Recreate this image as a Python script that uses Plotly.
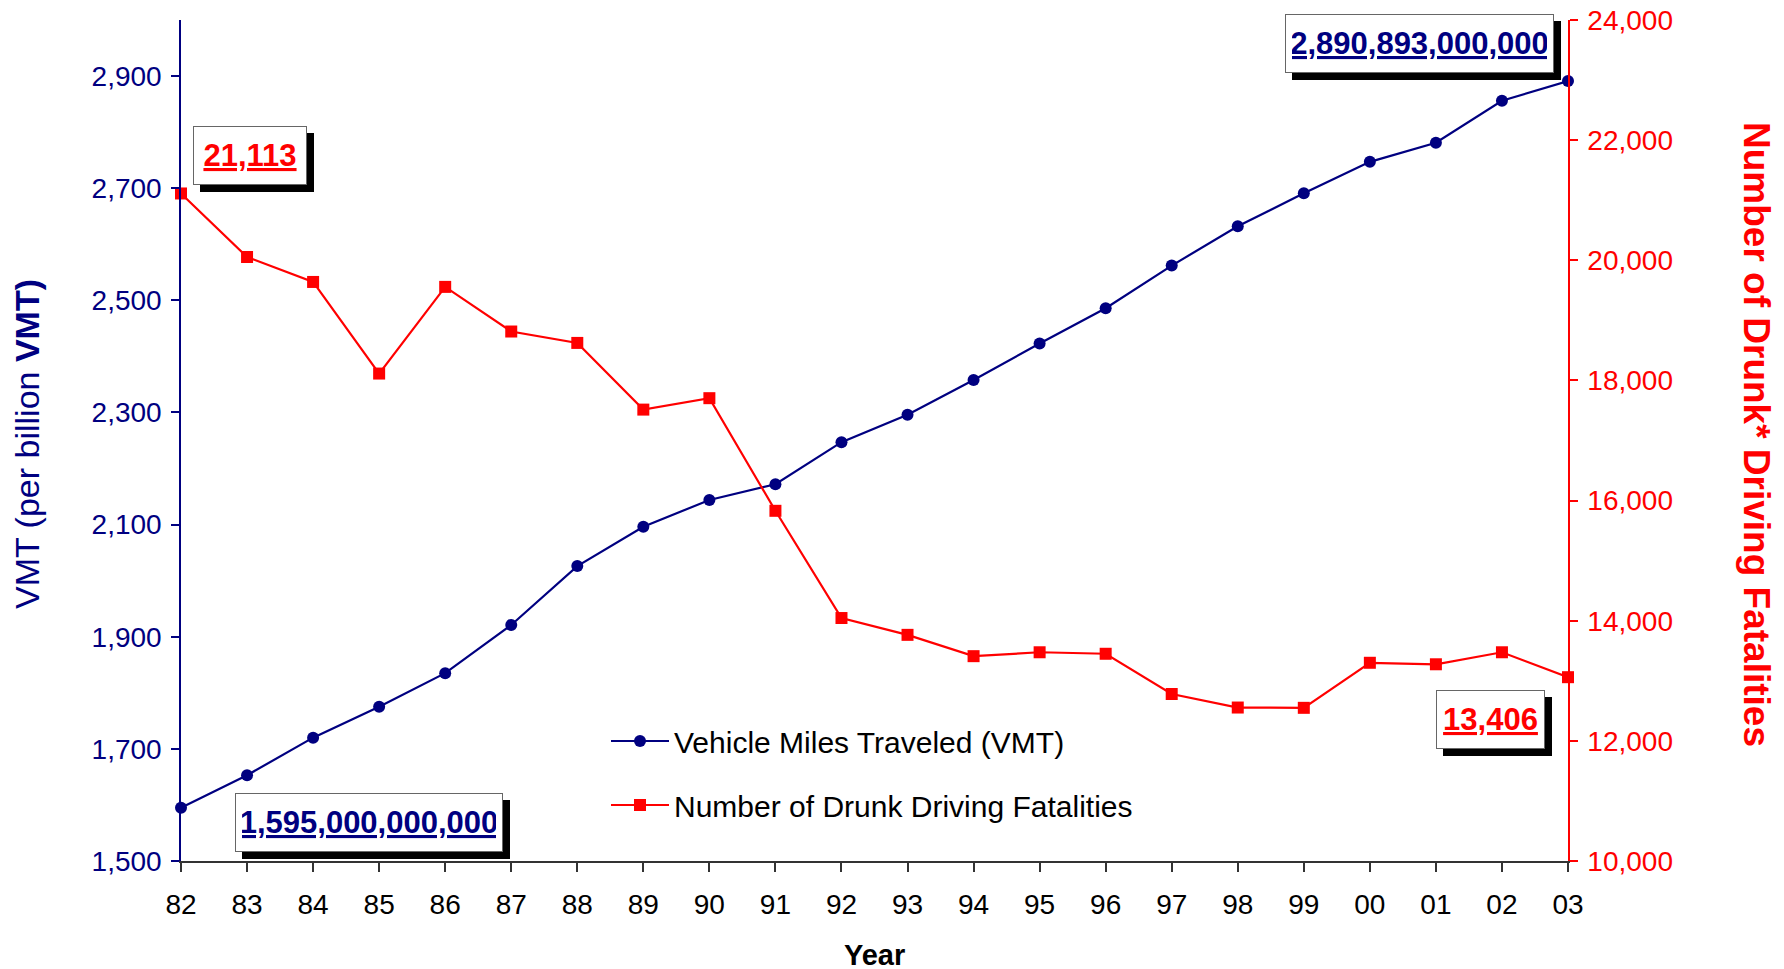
import plotly.graph_objects as go

# years shown on the x axis (two-digit labels)
years = ["82", "83", "84", "85", "86", "87", "88", "89", "90", "91", "92",
         "93", "94", "95", "96", "97", "98", "99", "00", "01", "02", "03"]

# vehicle miles traveled, billions
vmt = [1595, 1653, 1720, 1775, 1835, 1921, 2026, 2096, 2144, 2172, 2247,
       2296, 2358, 2423, 2486, 2562, 2632, 2691, 2747, 2781, 2856, 2891]

# drunk driving fatalities
fatalities = [21113, 20055, 19640, 18115, 19558, 18815, 18625, 17515, 17705, 15830, 14045,
              13765, 13410, 13475, 13450, 12780, 12555, 12550, 13300, 13275, 13475, 13060]

# axis ticks
vmt_ticks = [1500, 1700, 1900, 2100, 2300, 2500, 2700, 2900]
fatal_ticks = [10000, 12000, 14000, 16000, 18000, 20000, 22000, 24000]

NAVY = "#000080"
RED = "#FF0000"
FONT = "Arial, Liberation Sans, sans-serif"

W, H = 1784, 969
OFF = 8                            # default body margin of the html page
L, R, T, B = 181, 1568, 20, 861    # plot area, in screen pixels


def px(x):
    return (x - L) / (R - L)


def py(y):
    return (B - y) / (B - T)


xi = list(range(len(years)))

fig = go.Figure()
fig.add_trace(go.Scatter(
    x=xi, y=vmt, name="Vehicle Miles Traveled (VMT)", legendgroup="a",
    mode="lines+markers", line=dict(color=NAVY, width=2.2),
    marker=dict(symbol="circle", size=12, color=NAVY), cliponaxis=False,
))
fig.add_trace(go.Scatter(
    x=xi, y=fatalities, name="Number of Drunk Driving Fatalities", legendgroup="b",
    mode="lines+markers", line=dict(color=RED, width=2.2),
    marker=dict(symbol="square", size=12, color=RED), cliponaxis=False, yaxis="y2",
))

tick_font = dict(family=FONT, size=28)
vmt_range = [1500, 3000]
fatal_range = [10000, 24001]

fig.update_layout(
    width=W, height=H,
    margin=dict(l=L - OFF, r=W - R + OFF, t=T - OFF, b=H - B + OFF),
    paper_bgcolor="white", plot_bgcolor="white",
    font=dict(family=FONT),
    showlegend=True,
    legend=dict(x=px(606), y=py(715), xanchor="left", yanchor="top",
                font=dict(family=FONT, size=30, color="black"),
                traceorder="grouped", tracegroupgap=22, itemwidth=58,
                bgcolor="rgba(0,0,0,0)"),
    xaxis=dict(range=[0, 21], tickmode="array", tickvals=xi, ticktext=years,
               showline=True, linecolor="#333333", linewidth=1.5,
               ticks="outside", ticklen=9, tickcolor="#333333", tickwidth=1.5,
               tickfont=dict(tick_font, color="black"), ticklabelstandoff=9,
               automargin=False, showgrid=False, zeroline=False),
    xaxis2=dict(range=[0, 21], tickmode="array", tickvals=xi, overlaying="x",
                anchor="y", side="bottom", ticks="inside", ticklen=9,
                tickcolor="#333333", tickwidth=1.5, showticklabels=False,
                automargin=False, showline=False, showgrid=False, zeroline=False),
    yaxis=dict(range=vmt_range, tickmode="array", tickvals=vmt_ticks, tickformat=",d",
               showline=True, linecolor=NAVY, linewidth=1.5,
               ticks="outside", ticklen=8, tickcolor=NAVY, tickwidth=1.5,
               tickfont=dict(tick_font, color=NAVY), ticklabelstandoff=4,
               ticklabeloverflow="allow", automargin=False,
               showgrid=False, zeroline=False),
    yaxis2=dict(range=fatal_range, tickmode="array", tickvals=fatal_ticks, tickformat=",d",
                overlaying="y", side="right", anchor="x",
                showline=True, linecolor=RED, linewidth=1.5,
                ticks="outside", ticklen=8, tickcolor=RED, tickwidth=1.5,
                tickfont=dict(tick_font, color=RED), ticklabelstandoff=4,
                ticklabeloverflow="allow", automargin=False,
                showgrid=False, zeroline=False),
    yaxis3=dict(range=vmt_range, tickmode="array", tickvals=vmt_ticks, overlaying="y",
                side="left", anchor="x", ticks="inside", ticklen=8,
                tickcolor=NAVY, tickwidth=1.5, showticklabels=False, automargin=False,
                showline=False, showgrid=False, zeroline=False),
    yaxis4=dict(range=fatal_range, tickmode="array", tickvals=fatal_ticks, overlaying="y",
                side="right", anchor="x", ticks="inside", ticklen=8,
                tickcolor=RED, tickwidth=1.5, showticklabels=False, automargin=False,
                showline=False, showgrid=False, zeroline=False),
)

# axis titles
fig.add_annotation(text="VMT (per billion <b>VMT)</b>", textangle=-90,
                   x=px(27), y=py(444), xref="paper", yref="paper", showarrow=False,
                   xanchor="center", yanchor="middle",
                   font=dict(family=FONT, size=34, color=NAVY))
fig.add_annotation(text="<b>Number of Drunk* Driving Fatalities</b>", textangle=90,
                   x=px(1756), y=py(434), xref="paper", yref="paper", showarrow=False,
                   xanchor="center", yanchor="middle",
                   font=dict(family=FONT, size=37, color=RED))
fig.add_annotation(text="<b>Year</b>", x=px(874), y=py(955), xref="paper", yref="paper",
                   showarrow=False, xanchor="center", yanchor="middle",
                   font=dict(family=FONT, size=29, color="black"))

# boxed value call-outs with a drop shadow (shadow = blank black box behind)
callouts = [
    ("21,113", RED, 250, 155, 100),
    ("2,890,893,000,000", NAVY, 1419, 44, 255),
    ("1,595,000,000,000", NAVY, 369, 822, 254),
    ("13,406", RED, 1490, 719, 95),
]
for text, color, cx, cy, w in callouts:
    fig.add_annotation(text=" ", x=px(cx), y=py(cy),
                       xref="paper", yref="paper", showarrow=False,
                       xanchor="center", yanchor="middle",
                       xshift=7, yshift=-7, width=w, height=45, borderpad=6,
                       bgcolor="black", bordercolor="black", borderwidth=1,
                       font=dict(family=FONT, size=31, color="black"))
    fig.add_annotation(text="<b><u>" + text + "</u></b>", x=px(cx), y=py(cy),
                       xref="paper", yref="paper", showarrow=False,
                       xanchor="center", yanchor="middle",
                       width=w, height=45, borderpad=6,
                       bgcolor="white", bordercolor="#666666", borderwidth=1,
                       font=dict(family=FONT, size=31, color=color))

fig.write_html("out.html")
